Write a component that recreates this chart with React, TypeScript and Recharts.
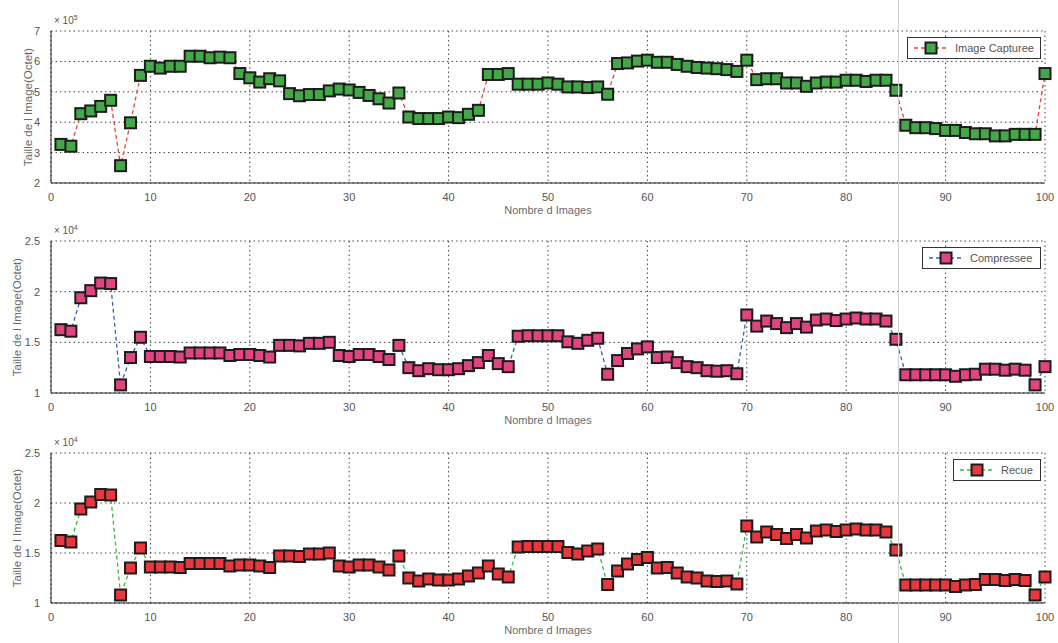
import { LineChart, Line, XAxis, YAxis, CartesianGrid } from 'recharts';

// image index 1..100
const xTicks = [0, 10, 20, 30, 40, 50, 60, 70, 80, 90, 100];
const yTicksCapture = [2, 3, 4, 5, 6, 7];
const yTicksSmall = [1, 1.5, 2, 2.5];

// sizes in units of 10^5 octets
const capturee = [
  3.27, 3.21, 4.28, 4.37, 4.52, 4.72, 2.57, 3.98, 5.54, 5.84,
  5.78, 5.84, 5.84, 6.17, 6.17, 6.12, 6.14, 6.12, 5.6, 5.46,
  5.32, 5.43, 5.36, 4.94, 4.87, 4.91, 4.91, 5.03, 5.09, 5.06,
  4.98, 4.88, 4.77, 4.63, 4.96, 4.17, 4.12, 4.12, 4.12, 4.17,
  4.15, 4.26, 4.39, 5.57, 5.57, 5.6, 5.25, 5.25, 5.25, 5.29,
  5.25, 5.16, 5.16, 5.14, 5.16, 4.92, 5.93, 5.95, 6.01, 6.04,
  5.97, 5.97, 5.9, 5.84, 5.8, 5.78, 5.76, 5.73, 5.67, 6.04,
  5.4, 5.43, 5.43, 5.29, 5.29, 5.18, 5.29, 5.32, 5.32, 5.38,
  5.38, 5.34, 5.38, 5.38, 5.05, 3.9, 3.82, 3.82, 3.79, 3.73,
  3.73, 3.66, 3.62, 3.62, 3.55, 3.55, 3.6, 3.6, 3.6, 5.6,
];

// sizes in units of 10^4 octets
const compressee = [
  1.625, 1.61, 1.94, 2.01, 2.085, 2.08, 1.08, 1.35, 1.55, 1.36,
  1.36, 1.36, 1.355, 1.395, 1.395, 1.395, 1.395, 1.37, 1.38, 1.38,
  1.37, 1.355, 1.47, 1.47, 1.465, 1.49, 1.49, 1.5, 1.37, 1.36,
  1.38, 1.38, 1.36, 1.33, 1.47, 1.25, 1.22, 1.24, 1.23, 1.23,
  1.24, 1.27, 1.3, 1.37, 1.29, 1.26, 1.56, 1.565, 1.565, 1.565,
  1.565, 1.505, 1.49, 1.52, 1.54, 1.185, 1.32, 1.39, 1.435, 1.455,
  1.35, 1.355, 1.3, 1.26, 1.25, 1.22, 1.215, 1.22, 1.19, 1.77,
  1.66, 1.71, 1.685, 1.645, 1.685, 1.65, 1.72, 1.73, 1.715, 1.73,
  1.74, 1.73, 1.73, 1.71, 1.53, 1.18, 1.18, 1.18, 1.18, 1.18,
  1.165, 1.18, 1.185, 1.235, 1.235, 1.225, 1.235, 1.225, 1.08, 1.26,
];

const recue = [
  1.625, 1.61, 1.94, 2.01, 2.085, 2.08, 1.08, 1.35, 1.55, 1.36,
  1.36, 1.36, 1.355, 1.395, 1.395, 1.395, 1.395, 1.37, 1.38, 1.38,
  1.37, 1.355, 1.47, 1.47, 1.465, 1.49, 1.49, 1.5, 1.37, 1.36,
  1.38, 1.38, 1.36, 1.33, 1.47, 1.25, 1.22, 1.24, 1.23, 1.23,
  1.24, 1.27, 1.3, 1.37, 1.29, 1.26, 1.56, 1.565, 1.565, 1.565,
  1.565, 1.505, 1.49, 1.52, 1.54, 1.185, 1.32, 1.39, 1.435, 1.455,
  1.35, 1.355, 1.3, 1.26, 1.25, 1.22, 1.215, 1.22, 1.19, 1.77,
  1.66, 1.71, 1.685, 1.645, 1.685, 1.65, 1.72, 1.73, 1.715, 1.73,
  1.74, 1.73, 1.73, 1.71, 1.53, 1.18, 1.18, 1.18, 1.18, 1.18,
  1.165, 1.18, 1.185, 1.235, 1.235, 1.225, 1.235, 1.225, 1.08, 1.26,
];

const FONT = 'Liberation Sans, Arial, sans-serif';
const EDGE = '#1c1c1c';

function squareDot(fill: string) {
  return (props: any) => {
    const { cx, cy, index } = props;
    if (cx == null || cy == null) return <g key={index} />;
    return (
      <rect
        key={index}
        x={cx - 5.5}
        y={cy - 5.5}
        width={11}
        height={11}
        fill={fill}
        stroke={EDGE}
        strokeWidth={2}
      />
    );
  };
}

interface PanelProps {
  top: number;
  height: number;
  values: number[];
  domain: [number, number];
  ticks: number[];
  exponent: string;
  lineColor: string;
  markerColor: string;
  legendName: string;
  legendWidth: number;
  labelX: number;
}

function Panel({ top, height, values, domain, ticks, exponent, lineColor, markerColor, legendName, legendWidth, labelX }: PanelProps) {
  const data = values.map((v, i) => ({ n: i + 1, v }));
  return (
    <div style={{ position: 'absolute', left: 0, top, width: 1058, height: height + 6 }}>
      <LineChart width={1058} height={height + 6} data={data} margin={{ top: 31, right: 13, bottom: 6, left: 0 }}>
        <CartesianGrid stroke="#444" strokeDasharray="1.5 3" />
        <XAxis
          dataKey="n"
          type="number"
          domain={[0, 100]}
          ticks={xTicks}
          interval={0}
          height={32}
          stroke="#222"
          tickLine={false}
          tick={{ fill: '#555', fontSize: 11, fontFamily: FONT }}
          tickMargin={4}
          label={{ value: 'Nombre d Images', position: 'insideBottom', offset: 1, fill: '#6b6b6b', fontSize: 11, fontFamily: FONT }}
        />
        <XAxis xAxisId="top" orientation="top" dataKey="n" type="number" domain={[0, 100]} height={0} tick={false} tickLine={false} stroke="#222" />
        <YAxis
          type="number"
          domain={domain}
          ticks={ticks}
          interval={0}
          width={51}
          stroke="#222"
          tickLine={false}
          tick={{ fill: '#555', fontSize: 11, fontFamily: FONT }}
          tickMargin={5}
          tickFormatter={(v: number) => String(v)}
          label={{
            value: 'Taille de l Image(Octet)',
            angle: -90,
            position: 'insideLeft',
            offset: labelX,
            fill: '#6b6b6b',
            fontSize: 11.5,
            fontFamily: FONT,
            style: { textAnchor: 'middle' },
          }}
        />
        <YAxis yAxisId="right" orientation="right" domain={domain} width={0} tick={false} tickLine={false} stroke="#222" />
        <Line
          type="linear"
          dataKey="v"
          stroke={lineColor}
          strokeWidth={1.3}
          strokeDasharray="4 3"
          dot={squareDot(markerColor)}
          activeDot={false}
          isAnimationActive={false}
        />
      </LineChart>
      <div
        style={{
          position: 'absolute',
          left: 54,
          top: 14,
          fontFamily: FONT,
          fontSize: 10,
          color: '#555',
        }}
      >
        × 10<sup style={{ fontSize: 7 }}>{exponent}</sup>
      </div>
      <div
        style={{
          position: 'absolute',
          left: 1041 - legendWidth,
          top: 37,
          width: legendWidth,
          height: 22,
          border: '1px solid #333',
          background: '#fff',
          boxSizing: 'border-box',
          display: 'flex',
          alignItems: 'center',
          fontFamily: FONT,
          fontSize: 11,
          color: '#555',
        }}
      >
        <svg width={38} height={20} style={{ marginLeft: 4 }}>
          <line x1={2} y1={10} x2={36} y2={10} stroke={lineColor} strokeWidth={1.3} strokeDasharray="4 3" />
          <rect x={13.5} y={4.5} width={11} height={11} fill={markerColor} stroke={EDGE} strokeWidth={2} />
        </svg>
        <span style={{ marginLeft: 5 }}>{legendName}</span>
      </div>
    </div>
  );
}

export default function App() {
  return (
    <div style={{ position: 'absolute', left: 0, top: 0, width: 1058, height: 643, background: '#fff', overflow: 'hidden' }}>
      <Panel
        top={0}
        height={215}
        values={capturee}
        domain={[2, 7]}
        ticks={yTicksCapture}
        exponent="5"
        lineColor="#e8403c"
        markerColor="#45a848"
        legendName="Image Capturee"
        legendWidth={134}
        labelX={28}
      />
      <Panel
        top={210}
        height={215}
        values={compressee}
        domain={[1, 2.5]}
        ticks={yTicksSmall}
        exponent="4"
        lineColor="#3b5fb8"
        markerColor="#e0457f"
        legendName="Compressee"
        legendWidth={119}
        labelX={17}
      />
      <Panel
        top={422}
        height={213}
        values={recue}
        domain={[1, 2.5]}
        ticks={yTicksSmall}
        exponent="4"
        lineColor="#3fb83f"
        markerColor="#e8383e"
        legendName="Recue"
        legendWidth={88}
        labelX={17}
      />
      <div style={{ position: 'absolute', left: 898, top: 0, width: 1, height: 643, background: '#cfcfcf' }} />
    </div>
  );
}
